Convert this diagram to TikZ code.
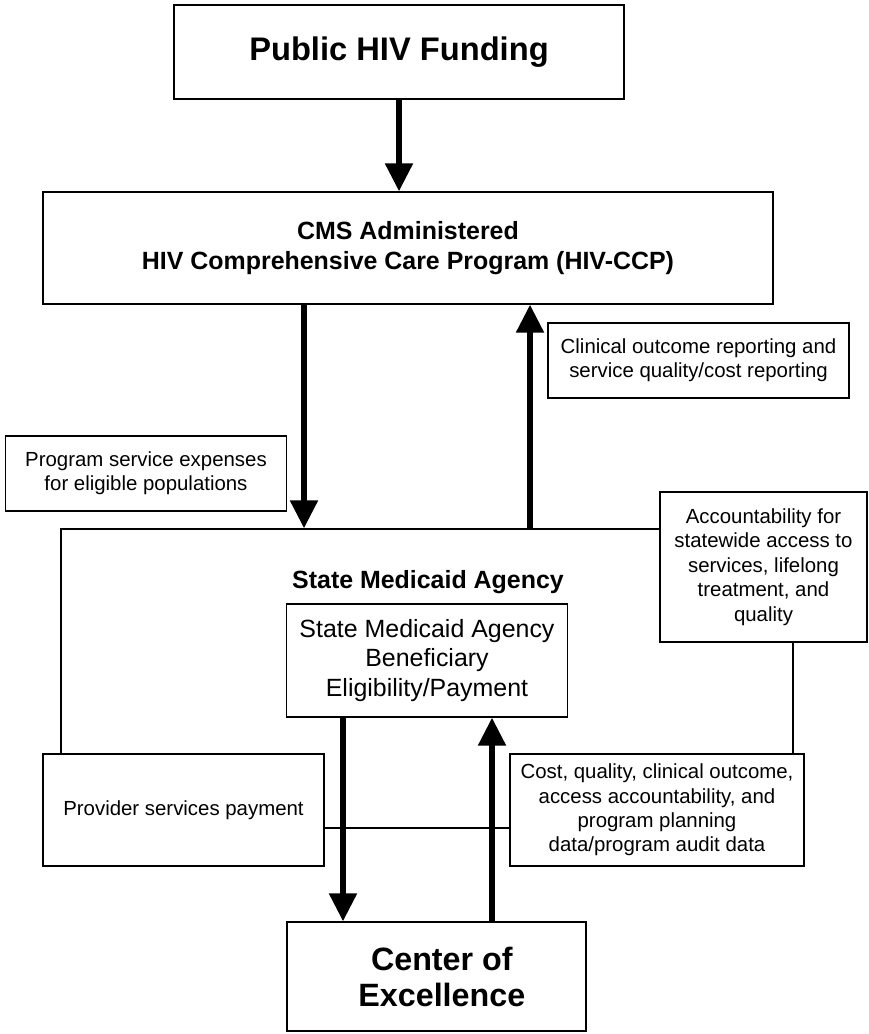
\documentclass[tikz,border=0pt]{standalone}
\usepackage{fontspec}
\setmainfont{Liberation Sans}
\usetikzlibrary{arrows.meta}

\begin{document}
\begin{tikzpicture}[x=0.75pt,y=-0.75pt,
    box/.style={draw, line width=0.9pt, fill=white, inner sep=0pt, align=center},
    flow/.style={line width=4.5pt, -{Triangle[length=21pt,width=20pt]}},
    smalltxt/.style={font=\fontsize{15.3}{18.3}\selectfont},
    midtxt/.style={font=\fontsize{18.7}{22}\selectfont},
    midbold/.style={font=\bfseries\fontsize{18.7}{22.5}\selectfont},
    bigtxt/.style={font=\bfseries\fontsize{24.5}{27}\selectfont}]
    \useasboundingbox (0,0) rectangle (868,1034);

    % Funding source and CMS program
    \node[box, bigtxt, minimum width=337.5pt, minimum height=70.5pt] (fund) at (399,52) {Public HIV Funding};
    \node[box, midbold, minimum width=547.5pt, minimum height=84pt] (cms) at (408,248)
        {CMS Administered\\HIV Comprehensive Care Program (HIV-CCP)};

    % State Medicaid Agency frame
    \node[box, minimum width=549pt, minimum height=224.25pt] (sma) at (427,678.5) {};
    \node[midbold] (smalabel) at (428,582) {State Medicaid Agency};
    \node[box, midtxt, minimum width=210.75pt, minimum height=84.75pt] (elig) at (427,660.5)
        {State Medicaid Agency\\Beneficiary\\Eligibility/Payment};

    % Side notes
    \node[box, smalltxt, minimum width=225.75pt, minimum height=56.25pt] (clin) at (698.5,360.5)
        {Clinical outcome reporting and\\service quality/cost reporting};
    \node[box, smalltxt, minimum width=210.75pt, minimum height=56.25pt] (prog) at (146,473.5)
        {Program service expenses\\for eligible populations};
    \node[box, smalltxt, minimum width=155.25pt, minimum height=112.5pt] (acct) at (763.5,567)
        {Accountability for\\statewide access to\\services, lifelong\\treatment, and\\quality};
    \node[box, smalltxt, minimum width=210.75pt, minimum height=84pt] (prov) at (183.5,810)
        {Provider services payment};
    \node[box, smalltxt, minimum width=220.5pt, minimum height=84pt] (cost) at (657,810)
        {Cost, quality, clinical outcome,\\access accountability, and\\program planning\\data/program audit data};

    % Center of Excellence
    \node[box, font=\bfseries\fontsize{24.2}{27}\selectfont, minimum width=224.25pt, minimum height=81.75pt] (coe) at (436.5,976.5)
        {\hspace*{8pt}Center of\\\hspace*{8pt}Excellence};

    % Arrow columns
    \coordinate (xa) at (304,0);
    \coordinate (xb) at (530,0);
    \coordinate (xc) at (343,0);
    \coordinate (xd) at (492,0);

    % Flows
    \draw[flow] (fund) -- (fund.south |- cms.north);
    \draw[flow] (xa |- cms.south) -- (xa |- sma.north);
    \draw[flow] (xb |- sma.north) -- (xb |- cms.south);
    \draw[flow] (xc |- elig.south) -- (xc |- coe.north);
    \draw[flow] (xd |- coe.north) -- (xd |- elig.south);
\end{tikzpicture}
\end{document}
